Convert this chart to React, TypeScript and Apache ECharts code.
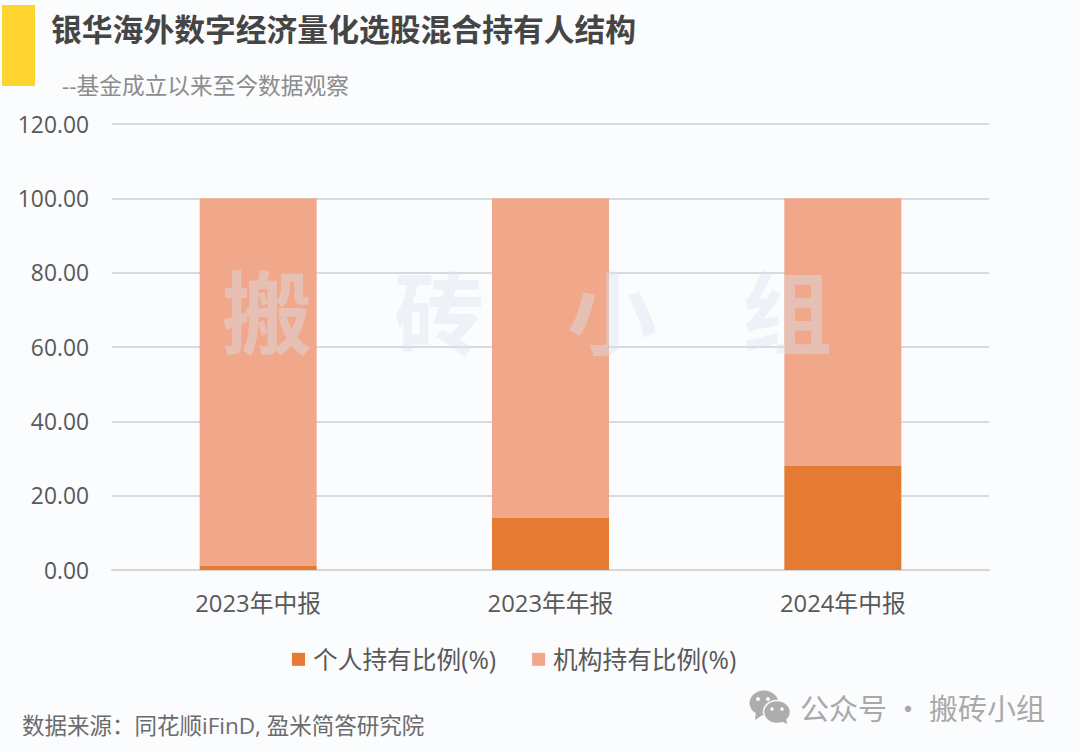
import React, { useEffect, useRef } from "react";
import * as echarts from "echarts";

const categories = ["2023年中报", "2023年年报", "2024年中报"];
const personal = [1.1, 14, 28];
const institution = [98.9, 86, 72];
const seriesNames = ["个人持有比例(%)", "机构持有比例(%)"];
const titleText = "银华海外数字经济量化选股混合持有人结构";
const subtitleText = "--基金成立以来至今数据观察";
const sourceText = "数据来源：同花顺iFinD, 盈米简答研究院";
const brandText = "公众号 · 搬砖小组";
const watermarkChars = ["搬", "砖", "小", "组"];
const watermarkX = [267, 439, 612, 787];

const FONT = '"Open Sans", "Noto Sans CJK SC", sans-serif';
const CJK = '"Noto Sans CJK SC", sans-serif';
const BG = "#fbfcfe";

export default function App() {
  const ref = useRef<HTMLDivElement>(null);
  useEffect(() => {
    document.body.style.margin = "0";
    const chart = echarts.init(ref.current!, null, { renderer: "svg" });
    const grey = "#adadad";
    chart.setOption({
      animation: false,
      backgroundColor: BG,
      grid: { left: 112, right: 91, top: 124, bottom: 183 },
      legend: {
        left: 287,
        top: 642,
        itemWidth: 13,
        itemHeight: 13,
        itemGap: 36,
        icon: "rect",
        textStyle: { fontFamily: FONT, fontSize: 24.7, color: "#595959", padding: [0, 0, 0, 3] },
        data: seriesNames,
      },
      xAxis: {
        type: "category",
        data: categories,
        axisTick: { show: false },
        axisLine: { lineStyle: { color: "#d6d6d6", width: 2 } },
        axisLabel: { fontFamily: FONT, fontSize: 23.8, color: "#595959", margin: 21 },
      },
      yAxis: {
        type: "value",
        min: 0,
        max: 120,
        interval: 20,
        axisLine: { show: false },
        axisTick: { show: false },
        axisLabel: {
          fontFamily: FONT,
          fontSize: 22.8,
          color: "#595959",
          margin: 23,
          formatter: (v: number) => v.toFixed(2),
        },
        splitLine: { lineStyle: { color: "#d9dade", width: 2 } },
      },
      series: [
        {
          name: seriesNames[0],
          type: "bar",
          stack: "total",
          barWidth: 117,
          itemStyle: { color: "#e57a33" },
          data: personal,
        },
        {
          name: seriesNames[1],
          type: "bar",
          stack: "total",
          barWidth: 117,
          itemStyle: { color: "#f1a88a" },
          data: institution,
        },
      ],
      graphic: [
        { type: "rect", z: 50, shape: { x: 2, y: 5, width: 33, height: 81 }, style: { fill: "#ffd42f" } },
        {
          type: "text", z: 50, x: 51, y: 27,
          style: { text: titleText, font: `bold 30.8px ${CJK}`, fill: "#454545", textVerticalAlign: "middle" },
        },
        {
          type: "text", z: 50, x: 62, y: 85,
          style: { text: subtitleText, font: `22.7px ${FONT}`, fill: "#8c8c8c", textVerticalAlign: "middle" },
        },
        {
          type: "text", z: 50, x: 22, y: 725,
          style: { text: sourceText, font: `22.5px ${FONT}`, fill: "#6b6b6b", textVerticalAlign: "middle" },
        },
        ...watermarkChars.map((c, i) => ({
          type: "text", z: 60, x: watermarkX[i], y: 308,
          style: {
            text: c, font: `bold 90px ${CJK}`, fill: "rgba(218,226,240,0.42)",
            textAlign: "center", textVerticalAlign: "middle",
          },
        })),
        { type: "ellipse", z: 50, shape: { cx: 764, cy: 703, rx: 14.5, ry: 12.5 }, style: { fill: grey } },
        { type: "polygon", z: 50, shape: { points: [[756, 712], [755, 720], [764, 714]] }, style: { fill: grey } },
        { type: "ellipse", z: 51, shape: { cx: 777, cy: 712, rx: 13.5, ry: 11.5 }, style: { fill: grey, stroke: BG, lineWidth: 1.5 } },
        { type: "polygon", z: 51, shape: { points: [[781, 721], [787, 724], [786, 717]] }, style: { fill: grey } },
        { type: "circle", z: 52, shape: { cx: 758, cy: 699, r: 2 }, style: { fill: BG } },
        { type: "circle", z: 52, shape: { cx: 768, cy: 699, r: 2 }, style: { fill: BG } },
        { type: "circle", z: 52, shape: { cx: 772, cy: 709, r: 1.8 }, style: { fill: BG } },
        { type: "circle", z: 52, shape: { cx: 782, cy: 709, r: 1.8 }, style: { fill: BG } },
        {
          type: "text", z: 50, x: 800, y: 707,
          style: { text: brandText, font: `29px ${CJK}`, fill: "#a9a9a9", textVerticalAlign: "middle" },
        },
      ],
    });
    return () => chart.dispose();
  }, []);
  return <div ref={ref} style={{ width: 1080, height: 753 }} />;
}
